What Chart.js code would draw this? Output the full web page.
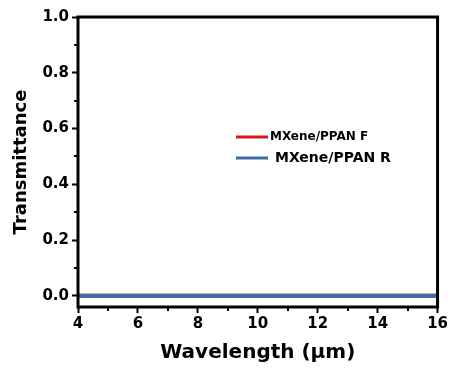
<!DOCTYPE html>
<html>
<head>
<meta charset="utf-8">
<script src="https://cdn.jsdelivr.net/npm/chart.js@4.4.1/dist/chart.umd.min.js"></script>
<style>
  html, body { margin: 0; padding: 0; background: #fff; }
  #wrap { width: 450px; height: 369px; position: relative; }
</style>
</head>
<body>
<div id="wrap"><canvas id="transChart"></canvas></div>
<script>
// transmittance spectra (wavelength in µm)
const wavelengths = [4, 5, 6, 7, 8, 9, 10, 11, 12, 13, 14, 15, 16];
const transF = [0, 0, 0, 0, 0, 0, 0, 0, 0, 0, 0, 0, 0];
const transR = [0, 0, 0, 0, 0, 0, 0, 0, 0, 0, 0, 0, 0];
const seriesNames = ['MXene/PPAN F', 'MXene/PPAN R'];

const xTicks = [4, 6, 8, 10, 12, 14, 16];
const xMinor = [5, 7, 9, 11, 13, 15];
const yTicks = [0, 0.2, 0.4, 0.6, 0.8, 1.0];
const yMinor = [0.1, 0.3, 0.5, 0.7, 0.9];

const RED = '#d8141c';
const BLUE = '#3b6ca4';
const FAMILY = '"DejaVu Sans", sans-serif';

const toPoints = (xs, ys) => xs.map((x, i) => ({ x: x, y: ys[i] }));

// box frame + minor ticks, drawn over the data so line ends sit under the border
const framePlugin = {
  id: 'frame',
  afterDatasetsDraw(chart) {
    const { ctx, chartArea: a, scales } = chart;
    ctx.save();
    ctx.strokeStyle = '#000';
    ctx.lineWidth = 2;
    xMinor.forEach(v => {
      const px = Math.round(scales.x.getPixelForValue(v));
      ctx.beginPath();
      ctx.moveTo(px, a.bottom);
      ctx.lineTo(px, a.bottom + 4);
      ctx.stroke();
    });
    yMinor.forEach(v => {
      const py = Math.round(scales.y.getPixelForValue(v));
      ctx.beginPath();
      ctx.moveTo(a.left, py);
      ctx.lineTo(a.left - 4, py);
      ctx.stroke();
    });
    ctx.lineWidth = 3;
    ctx.strokeRect(a.left, a.top, a.right - a.left, a.bottom - a.top);
    ctx.restore();
  }
};

// small legend inside the plot
const legendPlugin = {
  id: 'inlineLegend',
  afterDraw(chart) {
    const { ctx, chartArea: a } = chart;
    const rows = [
      { y: a.top + 120, textX: a.left + 192, size: 12 },
      { y: a.top + 141, textX: a.left + 197, size: 14 }
    ];
    ctx.save();
    chart.data.datasets.forEach((ds, i) => {
      const r = rows[i];
      ctx.strokeStyle = ds.borderColor;
      ctx.lineWidth = 3;
      ctx.beginPath();
      ctx.moveTo(a.left + 158, r.y);
      ctx.lineTo(a.left + 190, r.y);
      ctx.stroke();
      ctx.fillStyle = '#000';
      ctx.font = 'bold ' + r.size + 'px ' + FAMILY;
      ctx.textBaseline = 'middle';
      ctx.fillText(ds.label, r.textX, r.y);
    });
    ctx.restore();
  }
};

const tickFont = { family: FAMILY, weight: 'bold', size: 15 };

new Chart(document.getElementById('transChart'), {
  type: 'line',
  data: {
    datasets: [
      {
        label: seriesNames[0],
        data: toPoints(wavelengths, transF),
        borderColor: RED,
        borderWidth: 4,
        pointRadius: 0,
        order: 2
      },
      {
        label: seriesNames[1],
        data: toPoints(wavelengths, transR),
        borderColor: BLUE,
        borderWidth: 4,
        pointRadius: 0,
        order: 1
      }
    ]
  },
  options: {
    responsive: true,
    maintainAspectRatio: false,
    animation: false,
    devicePixelRatio: 1,
    layout: { padding: { left: 0, top: 17, right: 11, bottom: 0 } },
    plugins: { legend: { display: false }, tooltip: { enabled: false } },
    scales: {
      x: {
        type: 'linear',
        min: 4,
        max: 16,
        afterBuildTicks: s => { s.ticks = xTicks.map(v => ({ value: v })); },
        afterFit: s => { s.height = 62; },
        grid: { drawOnChartArea: false, drawTicks: true, tickLength: 6, tickWidth: 2, color: '#000' },
        border: { display: false },
        ticks: { font: tickFont, color: '#000', padding: 2, maxRotation: 0 },
        title: {
          display: true,
          text: 'Wavelength (μm)',
          font: { family: FAMILY, weight: 'bold', size: 20 },
          color: '#000',
          padding: { top: 0, bottom: 4 }
        }
      },
      y: {
        min: -0.04,
        max: 1.0,
        afterBuildTicks: s => { s.ticks = yTicks.map(v => ({ value: v })); },
        afterFit: s => { s.width = 78; },
        grid: { drawOnChartArea: false, drawTicks: true, tickLength: 6, tickWidth: 2, color: '#000' },
        border: { display: false },
        ticks: { font: tickFont, color: '#000', padding: 3, callback: v => Number(v).toFixed(1) },
        title: {
          display: true,
          text: 'Transmittance',
          font: { family: FAMILY, weight: 'bold', size: 18 },
          color: '#000',
          padding: { top: 11, bottom: 0 }
        }
      }
    }
  },
  plugins: [framePlugin, legendPlugin]
});
</script>
</body>
</html>
